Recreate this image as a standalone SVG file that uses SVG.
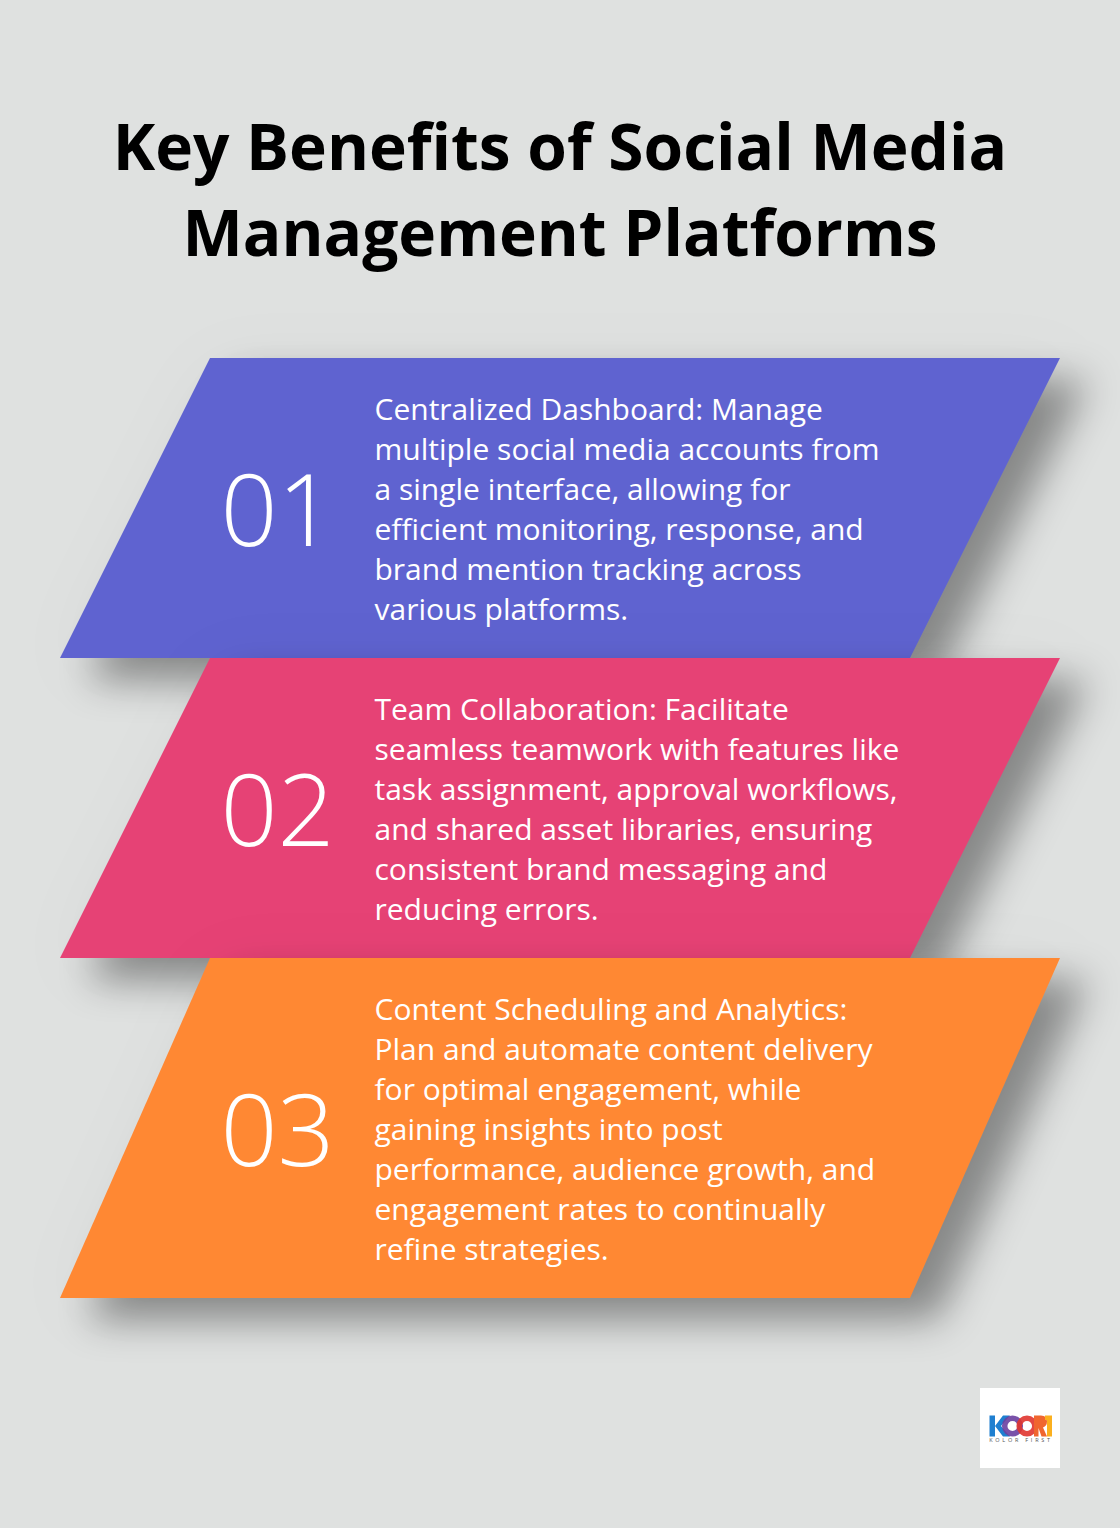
<svg xmlns="http://www.w3.org/2000/svg" width="1120" height="1528" viewBox="0 0 1120 1528">
<style>
text{font-family:"Open Sans","Noto Sans",sans-serif}
.t{font-size:64px;font-weight:700;fill:#000;text-anchor:middle}
.b{font-size:30px;fill:#fff}
.n{font-size:100px;font-weight:300;fill:#fff}
.s{filter:url(#sh)}
</style>
<defs>
<filter id="sh" x="-20%" y="-30%" width="140%" height="170%" color-interpolation-filters="sRGB">
<feGaussianBlur in="SourceAlpha" stdDeviation="19" result="a"/>
<feOffset in="a" dx="28" dy="22" result="a2"/>
<feFlood flood-color="#000" flood-opacity="0.38"/>
<feComposite in2="a2" operator="in" result="near"/>
<feGaussianBlur in="SourceAlpha" stdDeviation="35" result="b"/>
<feOffset in="b" dx="10" dy="10" result="b2"/>
<feFlood flood-color="#000" flood-opacity="0.04"/>
<feComposite in2="b2" operator="in" result="far"/>
<feMerge><feMergeNode in="far"/><feMergeNode in="near"/><feMergeNode in="SourceGraphic"/></feMerge>
</filter>
</defs>
<rect width="1120" height="1528" fill="#dfe1e0"/>
<g id="title">
<text class="t" x="560" y="170">Key Benefits of Social Media</text>
<text class="t" x="560" y="256">Management Platforms</text>
</g>
<g id="connectors"></g>
<g id="node-1">
<polygon class="s" points="210,358 1060,358 910,658 60,658" fill="#5f63d0"/>
<text class="n" x="220.500" y="546">01</text>
<text class="b"><tspan x="374.500" y="420">Centralized Dashboard: Manage</tspan><tspan x="374.500" y="460">multiple social media accounts from</tspan><tspan x="374.500" y="500">a single interface, allowing for</tspan><tspan x="374.500" y="540">efficient monitoring, response, and</tspan><tspan x="374.500" y="580">brand mention tracking across</tspan><tspan x="374.500" y="620">various platforms.</tspan></text>
</g>
<g id="node-2">
<polygon class="s" points="210,658 1060,658 910,958 60,958" fill="#e64275"/>
<text class="n" x="220.500" y="846">02</text>
<text class="b"><tspan x="374.500" y="720">Team Collaboration: Facilitate</tspan><tspan x="374.500" y="760">seamless teamwork with features like</tspan><tspan x="374.500" y="800">task assignment, approval workflows,</tspan><tspan x="374.500" y="840">and shared asset libraries, ensuring</tspan><tspan x="374.500" y="880">consistent brand messaging and</tspan><tspan x="374.500" y="920">reducing errors.</tspan></text>
</g>
<g id="node-3">
<polygon class="s" points="210,958 1060,958 910,1298 60,1298" fill="#ff8833"/>
<text class="n" x="220.500" y="1166">03</text>
<text class="b"><tspan x="374.500" y="1020">Content Scheduling and Analytics:</tspan><tspan x="374.500" y="1060">Plan and automate content delivery</tspan><tspan x="374.500" y="1100">for optimal engagement, while</tspan><tspan x="374.500" y="1140">gaining insights into post</tspan><tspan x="374.500" y="1180">performance, audience growth, and</tspan><tspan x="374.500" y="1220">engagement rates to continually</tspan><tspan x="374.500" y="1260">refine strategies.</tspan></text>
</g>
<g id="logo">
<rect x="980" y="1388" width="80" height="80" fill="#fff"/>
<rect x="989.500" y="1415.500" width="5.500" height="21" fill="#1f7fd0"/>
<path d="M995 1426L1003 1415.500H1010L1001 1426L1010 1436.500H1003Z" fill="#1f7fd0"/>
<circle cx="1012.500" cy="1426" r="7.800" fill="none" stroke="#6a3fa0" stroke-width="5.500" opacity="0.9"/>
<circle cx="1027" cy="1426" r="7.800" fill="none" stroke="#e0352f" stroke-width="5.500" opacity="0.9"/>
<path d="M1034 1436.500V1415.500H1041Q1047 1415.500 1047 1421.500Q1047 1426 1043 1427.500L1047 1436.500H1041.500L1038.500 1428V1436.500Z" fill="#f0662f"/>
<path d="M1045 1415.500H1052V1436.500H1047V1420H1045Z" fill="#fbb01f"/>
<text x="1021" y="1442" font-size="5.500" letter-spacing="2.750" text-anchor="middle" fill="#555">KOLOR FIRST</text>
</g>
</svg>
